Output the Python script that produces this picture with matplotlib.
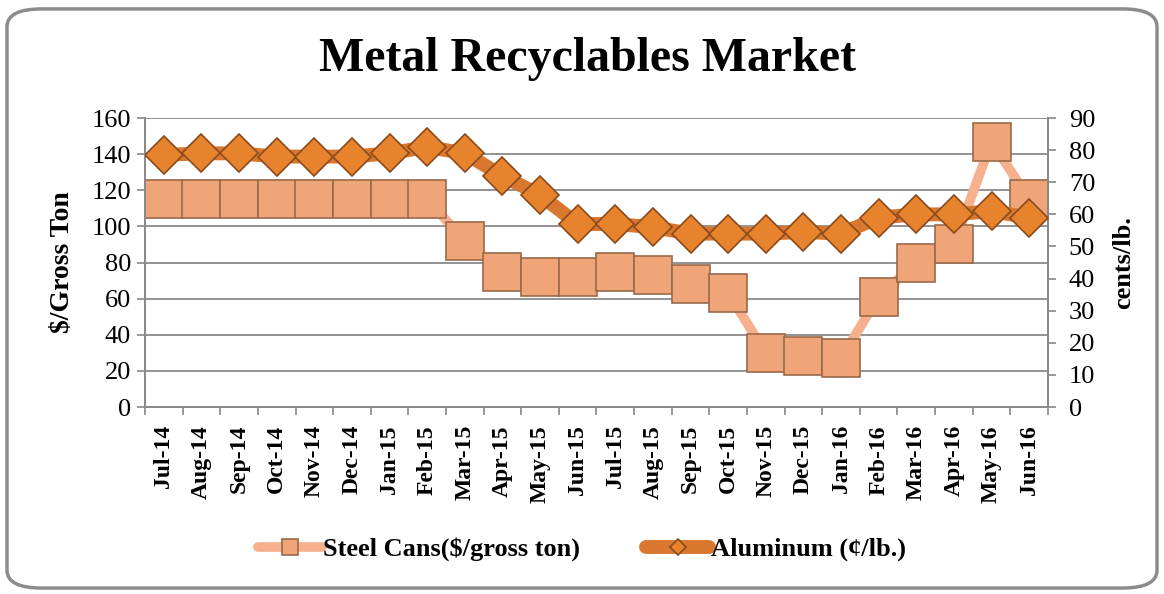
import matplotlib
matplotlib.use("Agg")
import matplotlib.pyplot as plt
from matplotlib.patches import FancyBboxPatch
from matplotlib.ticker import FixedLocator, MultipleLocator

# dati
months = ["Jul-14", "Aug-14", "Sep-14", "Oct-14", "Nov-14", "Dec-14", "Jan-15", "Feb-15",
          "Mar-15", "Apr-15", "May-15", "Jun-15", "Jul-15", "Aug-15", "Sep-15", "Oct-15",
          "Nov-15", "Dec-15", "Jan-16", "Feb-16", "Mar-16", "Apr-16", "May-16", "Jun-16"]
steel = [115, 115, 115, 115, 115, 115, 115, 115,
         92, 75, 72, 72, 75, 73, 68, 63,
         30, 28, 27, 61, 80, 90, 147, 115]
aluminum = [78.5, 79, 79, 78, 78, 78, 79, 81,
            79, 72, 66, 57, 57, 56, 54, 54,
            54, 54.5, 54, 59, 60, 60, 61, 59]

plt.rcParams['font.family'] = ['Liberation Serif', 'DejaVu Serif']

fig = plt.figure(figsize=(11.64, 5.94), dpi=100)
# bordo arrotondato del riquadro
fig.patches.append(FancyBboxPatch((0.006, 0.01), 0.988, 0.975, boxstyle="round,pad=0,rounding_size=0.03",
                                  transform=fig.transFigure, facecolor="white",
                                  edgecolor="#8c8c8c", linewidth=2.5, zorder=-1))

ax = fig.add_axes([0.1246, 0.3148, 0.7757, 0.4865])
ax2 = ax.twinx()

x = range(len(months))

ax.plot(x, steel, color="#f6b08e", linewidth=7, marker="s", markersize=27,
        markerfacecolor="#efa577", markeredgecolor="#9a6a4a", markeredgewidth=1.2,
        solid_capstyle="round", label="Steel Cans($/gross ton)", zorder=3)
ax2.plot(x, aluminum, color="#d9772f", linewidth=10, marker="D", markersize=19,
         markerfacecolor="#e8832d", markeredgecolor="#8a4a1c", markeredgewidth=1.2,
         solid_capstyle="round", label="Aluminum (\u00a2/lb.)", zorder=3)

ax.set_xlim(-0.5, len(months) - 0.5)
ax.set_ylim(0, 160)
ax2.set_ylim(0, 90)
ax.yaxis.set_major_locator(MultipleLocator(20))
ax2.yaxis.set_major_locator(MultipleLocator(10))

# tick alle separazioni, etichette al centro (stile Excel)
ax.xaxis.set_major_locator(FixedLocator([i - 0.5 for i in range(len(months) + 1)]))
ax.xaxis.set_minor_locator(FixedLocator(list(x)))
ax.set_xticklabels([])
ax.set_xticklabels(months, minor=True, rotation=90, fontweight="bold", fontsize=17)
ax.tick_params(axis="x", which="major", length=6, color="#888888", width=1.2)
ax.tick_params(axis="x", which="minor", length=0, pad=13)
ax.tick_params(axis="y", length=6, color="#888888", width=1.2, labelsize=19, pad=4)
ax2.tick_params(axis="y", length=6, color="#888888", width=1.2, labelsize=19, pad=9)

ax.grid(axis="y", color="#8a8a8a", linewidth=1.3)
ax.set_axisbelow(True)
for a in (ax, ax2):
    a.spines["top"].set_visible(False)
    for s in ("left", "right", "bottom"):
        a.spines[s].set_color("#8a8a8a")
        a.spines[s].set_linewidth(1.3)

ax.set_ylabel("$/Gross Ton", fontsize=20, fontweight="bold", labelpad=12)
ax2.set_ylabel("cents/lb.", fontsize=19, fontweight="bold", labelpad=12)

fig.text(0.505, 0.9, "Metal Recyclables Market", ha="center", va="center",
         fontsize=34.5, fontweight="bold")

h1, l1 = ax.get_legend_handles_labels()
h2, l2 = ax2.get_legend_handles_labels()
fig.legend(h1 + h2, l1 + l2, loc="center", bbox_to_anchor=(0.5, 0.075), ncol=2, frameon=False,
           prop={"weight": "bold", "size": 19}, markerscale=0.45, handlelength=2.4,
           handletextpad=0.05, columnspacing=2.5)

fig.savefig("out.png", dpi=100)
